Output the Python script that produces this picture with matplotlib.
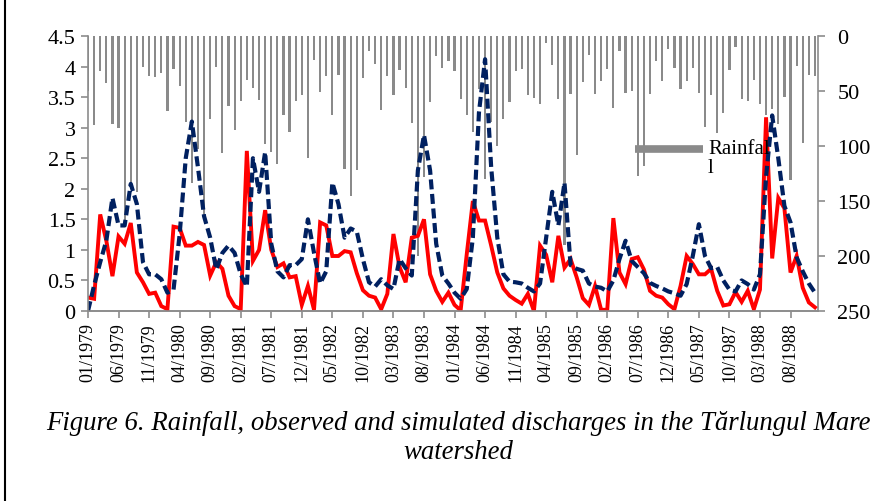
import numpy as np
import matplotlib
matplotlib.use("Agg")
import matplotlib.pyplot as plt
from matplotlib.lines import Line2D

plt.rcParams["font.family"] = ["Liberation Serif", "DejaVu Serif"]

# monthly rainfall (mm), 01/1979 - 12/1988
rainfall = [
    50, 81, 32, 43, 80, 84, 168, 135, 142, 28, 36, 37, 34, 68, 30,
    45, 78, 134, 103, 163, 75, 28, 106, 64, 85, 59, 40, 47, 58, 98,
    105, 116, 72, 87, 59, 54, 111, 22, 51, 36, 72, 35, 121, 145, 122,
    38, 14, 25, 67, 36, 54, 31, 47, 79, 200, 128, 60, 18, 29, 23,
    32, 57, 72, 87, 48, 130, 78, 100, 75, 60, 32, 30, 54, 56, 62,
    6, 26, 57, 190, 53, 108, 42, 17, 53, 41, 30, 65, 14, 52, 50,
    127, 118, 53, 23, 41, 12, 29, 48, 41, 29, 52, 83, 54, 88, 70,
    31, 10, 57, 59, 40, 62, 72, 66, 80, 55, 131, 27, 97, 35, 36,
]

# discharge (m3/s) - dashed navy series
simulated = [
    0.0, 0.42, 0.8, 1.15, 1.85, 1.4, 1.4, 2.08, 1.75, 0.8, 0.6, 0.6, 0.52, 0.3, 0.35,
    1.25, 2.5, 3.1, 2.35, 1.55, 1.2, 0.68, 0.95, 1.07, 0.95, 0.6, 0.4, 2.5, 1.95, 2.6,
    1.1, 0.65, 0.55, 0.75, 0.75, 0.85, 1.5, 0.95, 0.45, 0.65, 2.1, 1.75, 1.2, 1.35, 1.3,
    0.85, 0.47, 0.4, 0.52, 0.42, 0.36, 0.85, 0.7, 0.58, 2.3, 2.88, 2.3, 1.1, 0.58, 0.45,
    0.3, 0.2, 0.36, 1.2, 3.25, 4.12, 2.35, 1.2, 0.6, 0.48, 0.47, 0.45, 0.38, 0.32, 0.45,
    1.2, 1.95, 1.4, 2.1, 0.75, 0.69, 0.66, 0.45, 0.4, 0.38, 0.32, 0.5, 0.85, 1.15, 0.82,
    0.72, 0.62, 0.46, 0.41, 0.37, 0.32, 0.29, 0.25, 0.44, 0.9, 1.42, 0.9, 0.7, 0.72, 0.5,
    0.35, 0.32, 0.5, 0.44, 0.35, 0.6, 2.2, 3.2, 2.5, 1.72, 1.45, 0.88, 0.65, 0.45, 0.3,
]

# discharge (m3/s) - solid red series
observed = [
    0.22, 0.2, 1.58, 1.15, 0.57, 1.22, 1.1, 1.44, 0.63, 0.47, 0.28, 0.3, 0.08, 0.03, 1.38,
    1.36, 1.07, 1.07, 1.13, 1.08, 0.58, 0.8, 0.69, 0.25, 0.08, 0.03, 2.62, 0.82, 1.0, 1.65,
    1.0, 0.72, 0.78, 0.55, 0.57, 0.1, 0.41, 0.02, 1.45, 1.4, 0.9, 0.9, 0.98, 0.96, 0.62,
    0.34, 0.25, 0.22, 0.03, 0.28, 1.26, 0.72, 0.47, 1.2, 1.23, 1.5, 0.6, 0.33, 0.15, 0.3,
    0.1, 0.01, 0.93, 1.8, 1.48, 1.48, 1.07, 0.63, 0.37, 0.25, 0.18, 0.12, 0.28, 0.0, 1.07,
    0.92, 0.47, 1.23, 0.71, 0.85, 0.55, 0.21, 0.1, 0.41, 0.02, 0.02, 1.52, 0.63, 0.44, 0.85,
    0.88, 0.68, 0.33, 0.25, 0.22, 0.11, 0.03, 0.41, 0.9, 0.77, 0.6, 0.6, 0.69, 0.33, 0.09,
    0.11, 0.31, 0.15, 0.33, 0.03, 0.35, 3.17, 0.86, 1.85, 1.68, 0.63, 0.9, 0.38, 0.14, 0.06,
]

tick_labels = [
    "01/1979", "06/1979", "11/1979", "04/1980", "09/1980", "02/1981",
    "07/1981", "12/1981", "05/1982", "10/1982", "03/1983", "08/1983",
    "01/1984", "06/1984", "11/1984", "04/1985", "09/1985", "02/1986",
    "07/1986", "12/1986", "05/1987", "10/1987", "03/1988", "08/1988",
]
left_ticks = [0, 0.5, 1, 1.5, 2, 2.5, 3, 3.5, 4, 4.5]
right_ticks = [0, 50, 100, 150, 200, 250]

W, H = 893, 502
fig = plt.figure(figsize=(W / 100, H / 100), dpi=100)
ax = fig.add_axes([88 / W, 1 - 312 / H, 730 / W, 275 / H])
ax2 = ax.twinx()

x = np.arange(len(rainfall))
axis_gray = "#8c8c8c"
bar_gray = "#8a8a8a"

# rainfall bars hanging from the top on the inverted secondary axis
ax2.bar(x, rainfall, width=0.36, color=bar_gray)
ax2.set_ylim(250, 0)
ax2.set_yticks(right_ticks)

ax.plot(x, observed, color="#ff0000", lw=2.8, solid_joinstyle="miter")
ax.plot(x, simulated, color="#002060", lw=3.0, linestyle=(0, (2.4, 1.1)))
ax.set_ylim(0, 4.5)
ax.set_yticks(left_ticks)
ax.set_yticklabels([f"{v:g}" for v in left_ticks])
ax.set_xlim(0, 119.5)
ax.set_xticks(np.arange(0, len(x), 5))
ax.set_xticklabels(tick_labels, rotation=90)

ax.set_zorder(ax2.get_zorder() + 1)
ax.patch.set_visible(False)

for a in (ax, ax2):
    a.spines["top"].set_visible(False)
    for s in ("left", "right", "bottom"):
        a.spines[s].set_color(axis_gray)
        a.spines[s].set_linewidth(1.2)
    a.tick_params(colors=axis_gray, labelcolor="black", width=1.2, length=5)
ax.tick_params(axis="y", labelsize=16, pad=4)
ax.tick_params(axis="x", labelsize=13, pad=3)
ax2.tick_params(axis="y", labelsize=16, pad=9)
ax.spines["right"].set_visible(False)
ax2.spines["left"].set_visible(False)

# legend entry for the rainfall bars (label wraps as in the original)
ax.add_line(Line2D([(635 - 88) / 730, (703 - 88) / 730], [(312 - 150) / 275] * 2,
                   transform=ax.transAxes, color=bar_gray, lw=5.5,
                   solid_capstyle="butt"))
ax.text((708 - 88) / 730, (312 - 159) / 275, "Rainfal\nl", transform=ax.transAxes,
        fontsize=15, va="center", ha="left", linespacing=0.95)

caption = "Figure 6. Rainfall, observed and simulated discharges in the Tărlungul Mare\nwatershed"
fig.text(458 / W, 1 - 438 / H, caption, ha="center", va="center",
         style="italic", fontsize=19.3, linespacing=1.25)

# frame around the figure
frame = dict(color="black", lw=1.5, transform=fig.transFigure)
fig.add_artist(Line2D([5 / W, 5 / W], [0, 1], **frame))

fig.savefig("out.png", dpi=100)
